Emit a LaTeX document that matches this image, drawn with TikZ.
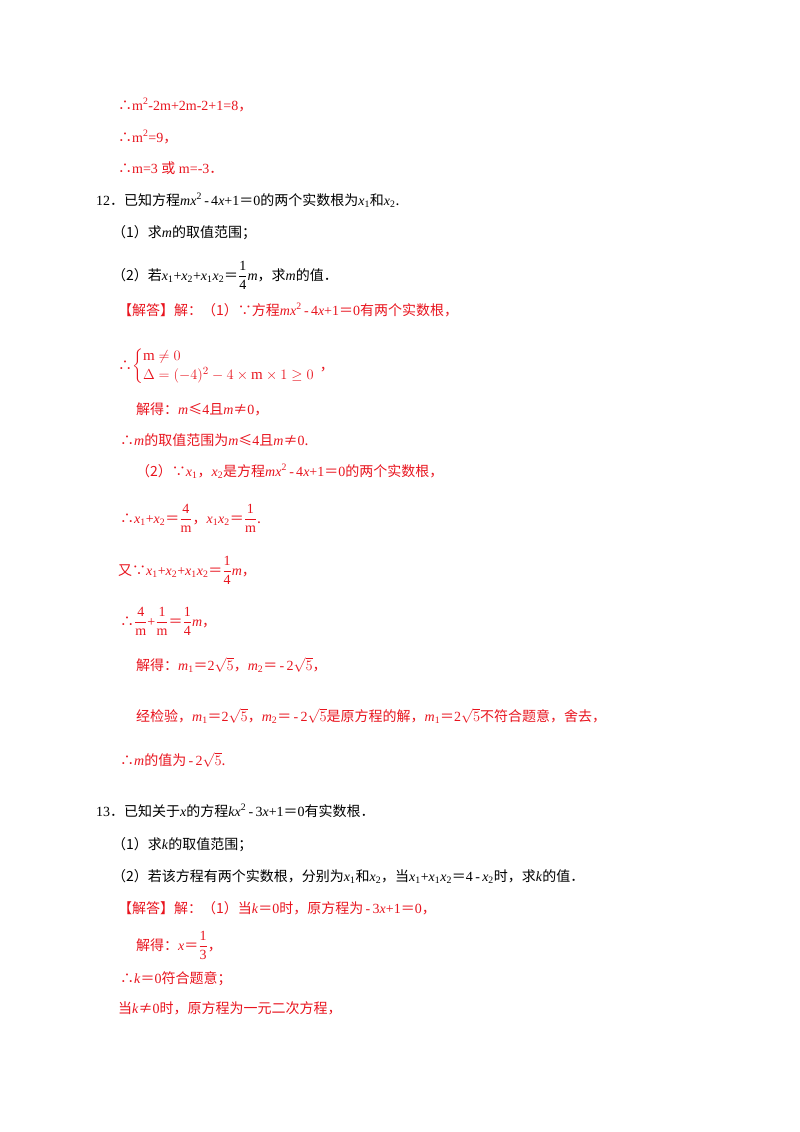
\documentclass[tikz,border=0pt]{standalone}
\usepackage{amsmath}
\usepackage{fontspec}
\setmainfont{Liberation Serif}
\newfontfamily\cjk{Noto Sans CJK SC}
\definecolor{rd}{RGB}{232,20,30}
\newcommand{\z}[1]{{\cjk #1}}
\newcommand{\fr}[2]{$\dfrac{\text{#1}}{\text{#2}}$}
\begin{document}
\begin{tikzpicture}[x=1pt,y=-1pt,
  ln/.style={anchor=base west,inner sep=0pt,font=\fontsize{14}{16}\selectfont},
  r/.style={ln,text=rd}]
\useasboundingbox (0,0) rectangle (800,1132);
\node[r] (l1) at (118,110) {\z{∴}m\textsuperscript{2}-2m+2m-2+1=8\z{，}};
\node[r] (l2) at (118,142) {\z{∴}m\textsuperscript{2}=9\z{，}};
\node[r] (l3) at (118,173) {\z{∴}m=3 \z{或} m=-3\z{．}};
\node[ln] (l4) at (96,205) {12\z{．已知方程}\textit{mx}\textsuperscript{2}\,-\,4\textit{x}+1\z{＝}0\z{的两个实数根为}\textit{x}\textsubscript{1}\z{和}\textit{x}\textsubscript{2}\z{.}};
\node[ln] (l5) at (112,237) {\z{（1）求}\textit{m}\z{的取值范围；}};
\node[ln] (l6) at (112,280) {\z{（2）若}\textit{x}\textsubscript{1}+\textit{x}\textsubscript{2}+\textit{x}\textsubscript{1}\textit{x}\textsubscript{2}\z{＝}\fr{1}{4}\textit{m}\z{，求}\textit{m}\z{的值．}};
\node[r] (l7) at (118,315) {\z{【解答】解：（1）∵方程}\textit{mx}\textsuperscript{2}\,-\,4\textit{x}+1\z{＝}0\z{有两个实数根，}};
\node[r] (l8) at (118,370) {\z{∴}{\fontsize{15}{19}\selectfont$\left\{\begin{array}{@{}l}\mathrm{m}\neq0\\ \Delta=(-4)^2-4\times \mathrm{m}\times1\geq0\end{array}\right.$}\z{，}};
\node[r] (l9) at (136,414) {\z{解得：}\textit{m}\z{≤}4\z{且}\textit{m}\z{≠}0\z{，}};
\node[r] (l10) at (120,445) {\z{∴}\textit{m}\z{的取值范围为}\textit{m}\z{≤}4\z{且}\textit{m}\z{≠}0\z{.}};
\node[r] (l11) at (136,476) {\z{（2）∵}\textit{x}\textsubscript{1}\z{，}\textit{x}\textsubscript{2}\z{是方程}\textit{mx}\textsuperscript{2}\,-\,4\textit{x}+1\z{＝}0\z{的两个实数根，}};
\node[r] (l12) at (120,523) {\z{∴}\textit{x}\textsubscript{1}+\textit{x}\textsubscript{2}\z{＝}\fr{4}{m}\z{，}\textit{x}\textsubscript{1}\textit{x}\textsubscript{2}\z{＝}\fr{1}{m}\z{.}};
\node[r] (l13) at (118,575) {\z{又∵}\textit{x}\textsubscript{1}+\textit{x}\textsubscript{2}+\textit{x}\textsubscript{1}\textit{x}\textsubscript{2}\z{＝}\fr{1}{4}\textit{m}\z{，}};
\node[r] (l14) at (120,626) {\z{∴}\fr{4}{m}+\fr{1}{m}\z{＝}\fr{1}{4}\textit{m}\z{，}};
\node[r] (l15) at (136,670) {\z{解得：}\textit{m}\textsubscript{1}\z{＝}2$\sqrt{5}$\z{，}\textit{m}\textsubscript{2}\z{＝}\,-\,2$\sqrt{5}$\z{，}};
\node[r] (l16) at (136,721) {\z{经检验，}\textit{m}\textsubscript{1}\z{＝}2$\sqrt{5}$\z{，}\textit{m}\textsubscript{2}\z{＝}\,-\,2$\sqrt{5}$\z{是原方程的解，}\textit{m}\textsubscript{1}\z{＝}2$\sqrt{5}$\z{不符合题意，舍去，}};
\node[r] (l17) at (120,765) {\z{∴}\textit{m}\z{的值为}\,-\,2$\sqrt{5}$\z{.}};
\node[ln] (l18) at (96,816) {13\z{．已知关于}\textit{x}\z{的方程}\textit{kx}\textsuperscript{2}\,-\,3\textit{x}+1\z{＝}0\z{有实数根．}};
\node[ln] (l19) at (112,849) {\z{（1）求}\textit{k}\z{的取值范围；}};
\node[ln] (l20) at (112,881) {\z{（2）若该方程有两个实数根，分别为}\textit{x}\textsubscript{1}\z{和}\textit{x}\textsubscript{2}\z{，当}\textit{x}\textsubscript{1}+\textit{x}\textsubscript{1}\textit{x}\textsubscript{2}\z{＝}4\,-\,\textit{x}\textsubscript{2}\z{时，求}\textit{k}\z{的值．}};
\node[r] (l21) at (118,913) {\z{【解答】解：（1）当}\textit{k}\z{＝}0\z{时，原方程为}\,-\,3\textit{x}+1\z{＝}0\z{，}};
\node[r] (l22) at (136,950) {\z{解得：}\textit{x}\z{＝}\fr{1}{3}\z{，}};
\node[r] (l23) at (120,983) {\z{∴}\textit{k}\z{＝}0\z{符合题意；}};
\node[r] (l24) at (118,1013) {\z{当}\textit{k}\z{≠}0\z{时，原方程为一元二次方程，}};
\end{tikzpicture}
\end{document}
